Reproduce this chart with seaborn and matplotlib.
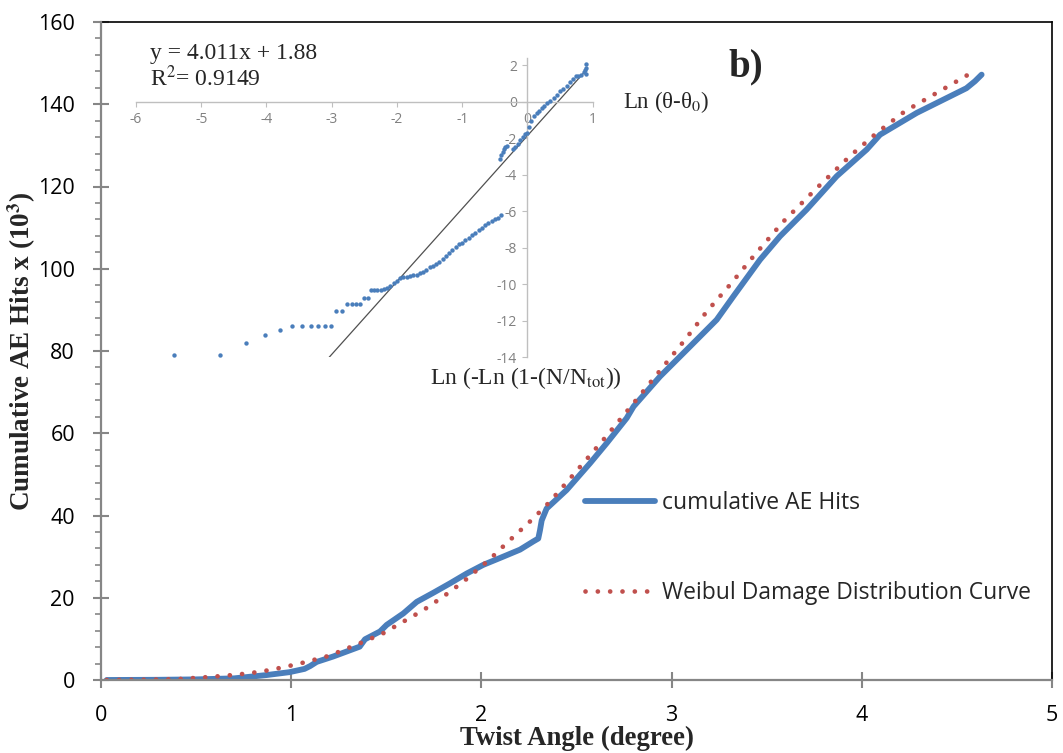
import matplotlib
matplotlib.use("Agg")
import matplotlib.pyplot as plt
import seaborn as sns
import numpy as np

# ---------------- data ----------------
# cumulative AE hits (x10^3) vs twist angle (degree)
ae_angle = [0.03, 0.30, 0.50, 0.70, 0.87, 0.99, 1.07, 1.10, 1.134, 1.22, 1.29, 1.36,
            1.388, 1.467, 1.502, 1.59, 1.66, 1.747, 1.835, 1.923, 2.01, 2.115, 2.203,
            2.273, 2.299, 2.308, 2.317, 2.343, 2.448, 2.571, 2.659, 2.764, 2.80, 2.939,
            3.097, 3.237, 3.325, 3.465, 3.57, 3.71, 3.868, 4.026, 4.096, 4.289, 4.55,
            4.595, 4.63]
ae_hits = [0.0, 0.05, 0.15, 0.4, 1.2, 1.9, 2.7, 3.4, 4.4, 5.7, 6.9, 8.1,
           9.9, 11.8, 13.4, 16.2, 19.0, 21.2, 23.5, 25.9, 28.0, 30.0, 31.7,
           33.7, 34.4, 36.4, 38.8, 41.7, 46.2, 52.7, 57.6, 63.7, 66.5, 73.8,
           81.1, 87.6, 93.3, 102.2, 107.9, 114.4, 122.5, 129.0, 132.6, 137.9, 143.9,
           145.6, 147.2]

# Weibull damage distribution curve
wb_angle = [0.03, 0.20, 0.40, 0.59, 0.715, 0.838, 0.96, 1.08, 1.20, 1.37, 1.485, 1.59,
            1.695, 1.80, 1.905, 2.045, 2.133, 2.273, 2.361, 2.483, 2.641, 2.80, 2.956,
            3.07, 3.185, 3.307, 3.43, 3.588, 3.763, 3.938, 4.078, 4.227, 4.50, 4.604]
wb_hits = [0.0, 0.05, 0.2, 0.8, 1.3, 2.0, 3.1, 4.4, 5.9, 9.1, 11.4, 14.2,
           17.0, 20.3, 23.9, 29.4, 33.3, 39.3, 43.4, 49.9, 58.4, 67.3, 76.2,
           82.7, 89.6, 96.1, 103.0, 111.5, 119.6, 127.4, 133.0, 138.3, 145.6, 148.4]

# inset: Weibull plot  Ln(theta - theta0)  vs  Ln(-Ln(1 - N/Ntot))
wp_x = [-5.42, -4.72, -4.31, -4.03, -3.79, -3.61, -3.46, -3.32, -3.21, -3.10, -3.01,
        -2.93, -2.84, -2.76, -2.69, -2.63, -2.57, -2.51, -2.45,
        -2.40, -2.35, -2.30, -2.25, -2.20, -2.15, -2.10, -2.05, -2.00, -1.95, -1.90,
        -1.85, -1.80, -1.75, -1.70, -1.65, -1.60, -1.55, -1.50, -1.45, -1.40, -1.35,
        -1.30, -1.25, -1.20, -1.15, -1.10, -1.05, -1.00, -0.95, -0.90, -0.85, -0.80,
        -0.75, -0.70, -0.65, -0.60, -0.55, -0.50, -0.45, -0.40,
        -0.42, -0.40, -0.38, -0.36, -0.34, -0.31, -0.22, -0.19, -0.15, -0.11, -0.07,
        -0.03, 0.00, 0.03, 0.06, 0.10, 0.14, 0.18, 0.22, 0.26, 0.30, 0.35, 0.40, 0.45,
        0.50, 0.55, 0.60, 0.65, 0.70, 0.74, 0.78, 0.82, 0.86, 0.88, 0.90, 0.90, 0.90]
wp_y = [-13.89, -13.89, -13.2, -12.76, -12.52, -12.29, -12.29, -12.29, -12.29, -12.29, -12.29,
        -11.48, -11.48, -11.06, -11.06, -11.06, -11.06, -10.73, -10.73,
        -10.30, -10.30, -10.30, -10.30, -10.28, -10.20, -10.10, -9.95, -9.80, -9.68, -9.62,
        -9.58, -9.55, -9.52, -9.50, -9.38, -9.32, -9.22, -9.06, -8.98, -8.90, -8.78,
        -8.62, -8.46, -8.30, -8.12, -7.95, -7.82, -7.72, -7.58, -7.45, -7.32, -7.18,
        -7.05, -6.92, -6.78, -6.66, -6.55, -6.45, -6.35, -6.22,
        -3.15, -2.95, -2.75, -2.60, -2.50, -2.42, -2.60, -2.48, -2.30, -2.12, -1.95,
        -1.80, -1.70, -1.40, -1.05, -0.80, -0.62, -0.50, -0.35, -0.22, -0.10, 0.05, 0.22, 0.38,
        0.55, 0.70, 0.85, 1.05, 1.25, 1.38, 1.42, 1.48, 1.62, 1.72, 1.85, 2.05, 1.50]

# linear fit line of the inset (end points)
fit_x = [-3.04, 0.90]
fit_y = [-14.0, 1.72]

x_ticks = [0, 1, 2, 3, 4, 5]
y_ticks = [0, 20, 40, 60, 80, 100, 120, 140, 160]
inset_xticks = [-6, -5, -4, -3, -2, -1, 0, 1]
inset_yticks = [-14, -12, -10, -8, -6, -4, -2, 0, 2]

# ---------------- style ----------------
sns.set_theme(style="white")
plt.rcParams['font.family'] = ['Open Sans', 'DejaVu Sans']
plt.rcParams['mathtext.fontset'] = 'stix'

BLUE = "#4A7EBB"
RED = "#C0504D"
SERIF = ['Liberation Serif', 'DejaVu Serif']

W, H = 1063, 753
fig = plt.figure(figsize=(W / 100, H / 100), dpi=100)
fig.patch.set_facecolor("white")

L, R, T, B = 101, 1052, 22, 680
ax = fig.add_axes([L / W, 1 - B / H, (R - L) / W, (B - T) / H])
ax.set_facecolor("white")

sns.lineplot(x=ae_angle, y=ae_hits, ax=ax, color=BLUE, linewidth=4.2,
             solid_capstyle='round', solid_joinstyle='round',
             label="cumulative AE Hits", sort=False, estimator=None, zorder=3)
sns.lineplot(x=wb_angle, y=wb_hits, ax=ax, color=RED, linewidth=3.4,
             linestyle=(0, (0.01, 2.6)), dash_capstyle='round',
             label="Weibul Damage Distribution Curve", sort=False, estimator=None, zorder=4)

ax.set_xlim(0, 5)
ax.set_ylim(0, 160)
ax.set_xticks(x_ticks)
ax.set_yticks(y_ticks)
ax.set_yticks(np.arange(0, 161, 4), minor=True)
ax.set_xticklabels([str(t) for t in x_ticks])
ax.set_yticklabels([str(t) for t in y_ticks])

for s in ['left', 'bottom']:
    ax.spines[s].set_color('#868686')
    ax.spines[s].set_linewidth(1.6)
    ax.spines[s].set_zorder(5)
for s in ['top', 'right']:
    ax.spines[s].set_color('black')
    ax.spines[s].set_linewidth(1.2)

ax.tick_params(axis='both', which='major', direction='inout', length=11.5, width=1.5,
               color='#868686', labelsize=15.5, labelcolor='black')
ax.tick_params(axis='y', which='major', pad=13, left=True)
ax.tick_params(axis='x', which='major', pad=12, bottom=True)
ax.tick_params(axis='y', which='minor', direction='out', length=4.3, width=1.2,
               color='#868686', left=True)

ax.set_xlabel("Twist Angle (degree)", family=SERIF, fontweight='bold', fontsize=19.3,
              labelpad=0.5)
ax.set_ylabel(r"Cumulative AE Hits x (10$^{\mathbf{3}}$)", family=SERIF,
              fontweight='bold', fontsize=19.5, labelpad=0)

leg = ax.legend(loc='upper left', bbox_to_anchor=(585 / W, 1 - 491 / H),
                bbox_transform=fig.transFigure, frameon=False, fontsize=16.5,
                handlelength=3.05, handletextpad=0.3, labelspacing=2.9,
                borderpad=0, borderaxespad=0)

fig.text(728 / W, 1 - 67 / H, "b)", family=SERIF, fontweight='bold', fontsize=28,
         ha='left', va='center')

# ---------------- inset ----------------
iL, iR, iT, iB = 136, 592.7, 57.7, 357.3
axi = fig.add_axes([iL / W, 1 - iB / H, (iR - iL) / W, (iB - iT) / H])
axi.patch.set_alpha(0)
sns.scatterplot(x=wp_x, y=wp_y, ax=axi, color=BLUE, s=10, linewidth=0, zorder=3)
sns.lineplot(x=fit_x, y=fit_y, ax=axi, color='#505050', linewidth=0.9, zorder=2)
axi.set_xlim(-6, 1)
axi.set_ylim(-14, 2.4)
axi.spines['left'].set_position(('data', 0))
axi.spines['bottom'].set_position(('data', 0))
axi.spines['top'].set_visible(False)
axi.spines['right'].set_visible(False)
for s in ['left', 'bottom']:
    axi.spines[s].set_color('#BFBFBF')
    axi.spines[s].set_linewidth(1.0)
axi.set_xticks(inset_xticks)
axi.set_yticks(inset_yticks)
axi.set_xticklabels([str(t) for t in inset_xticks])
axi.set_yticklabels([str(t) for t in inset_yticks])
axi.tick_params(axis='both', direction='out', length=3.5, width=0.8, color='#BFBFBF',
                labelsize=10, labelcolor='#808080', pad=4)
axi.tick_params(axis='x', bottom=True)
axi.tick_params(axis='y', left=True)
axi.set_xlabel("")
axi.set_ylabel("")

fig.text(150 / W, 1 - 53 / H, "y = 4.011x + 1.88", family=SERIF, fontsize=17,
         ha='left', va='center')
fig.text(150 / W, 1 - 78 / H, r"R$^2$= 0.9149", family=SERIF, fontsize=17,
         ha='left', va='center')
fig.text(623 / W, 1 - 102 / H, r"Ln (θ-θ$_0$)", family=SERIF, fontsize=16.5,
         ha='left', va='center')
fig.text(526 / W, 1 - 378 / H, r"Ln (-Ln (1-(N/N$_{\mathrm{tot}}$))", family=SERIF,
         fontsize=17, ha='center', va='center')

fig.savefig("out.png", dpi=100)
